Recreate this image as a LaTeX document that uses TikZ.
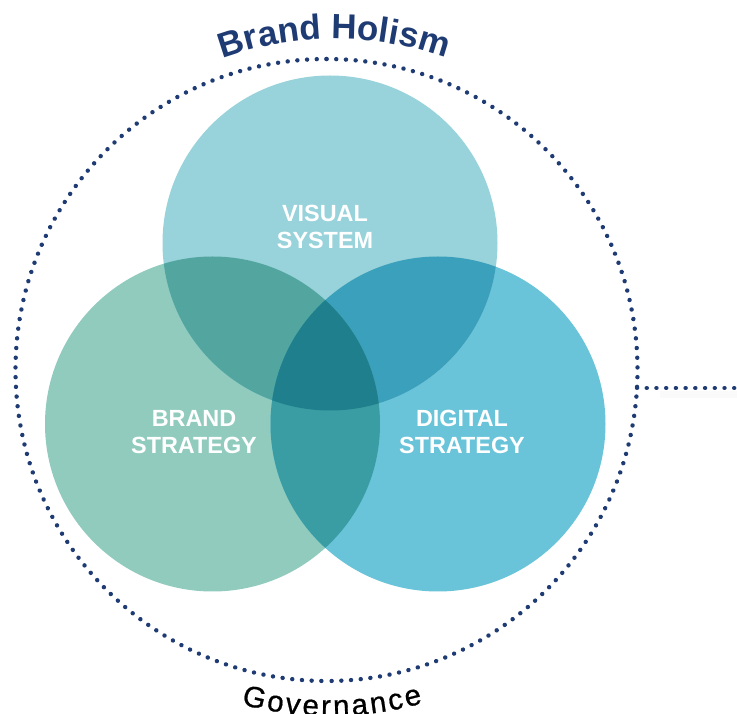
\documentclass[tikz,border=0pt]{standalone}
\usepackage{fontspec}
\setmainfont{Liberation Sans}
\newfontfamily\govfont[FakeBold=0.7]{Liberation Sans}
\usetikzlibrary{decorations.text}
\definecolor{navy}{HTML}{1F3B73}
\definecolor{cTop}{HTML}{98D2DA}
\definecolor{cLeft}{HTML}{90CBBD}
\definecolor{cRight}{HTML}{69C3D9}
\definecolor{cTL}{HTML}{53A6A0}
\definecolor{cTR}{HTML}{3BA0BB}
\definecolor{cLR}{HTML}{3A9DA4}
\definecolor{cAll}{HTML}{1F7F8C}
\tikzset{
  dots/.style={navy,line width=4.4pt,line cap=round,dash pattern=on 0.05pt off 9.67pt},
  venn/.style={text=white,font=\fontsize{23.4}{27.5}\selectfont\bfseries,align=center,inner sep=0pt},
}
\def\ctop{(330,470) circle (167.5)}
\def\cleft{(212.5,289) circle (167.5)}
\def\cright{(438,289) circle (167.5)}
\begin{document}
\begin{tikzpicture}[x=1pt,y=1pt]
\useasboundingbox (0,0) rectangle (737,713);
\clip (0,0) rectangle (737,713);
\fill[cLeft] \cleft;
\fill[cRight] \cright;
\fill[cTop] \ctop;
\begin{scope}\clip \ctop; \fill[cTL] \cleft; \fill[cTR] \cright; \end{scope}
\begin{scope}\clip \cleft; \fill[cLR] \cright; \end{scope}
\begin{scope}\clip \ctop; \clip \cleft; \fill[cAll] \cright; \end{scope}
\draw[dots] (326.5,654) arc[start angle=90,end angle=270,radius=311];
\draw[dots] (326.5,654) arc[start angle=90,end angle=-90,radius=311];
\fill[black!2] (660,315) rectangle (737,322);
\coordinate (lineA) at (637,325);
\coordinate (lineB) at (737,325);
\draw[dots] (lineA) -- (lineB);
\node[venn] (visual) at (325,486) {VISUAL\\SYSTEM};
\node[venn] (brand) at (194,281) {BRAND\\STRATEGY};
\node[venn] (digital) at (462,281) {DIGITAL\\STRATEGY};
\path[decorate,decoration={text along path,text align={fit to path},
  text={|\fontsize{35}{35}\selectfont\bfseries\color{navy}|Brand Holism}}]
  (335,346) ++(110:328) arc[start angle=110,end angle=71,radius=328];
\path[decorate,decoration={text along path,text align={fit to path},
  text={|\fontsize{29.5}{29.5}\selectfont\govfont\color{black}|Governance}}]
  (330,340) ++(255:343) arc[start angle=255,end angle=285.7,radius=343];
\end{tikzpicture}
\end{document}
